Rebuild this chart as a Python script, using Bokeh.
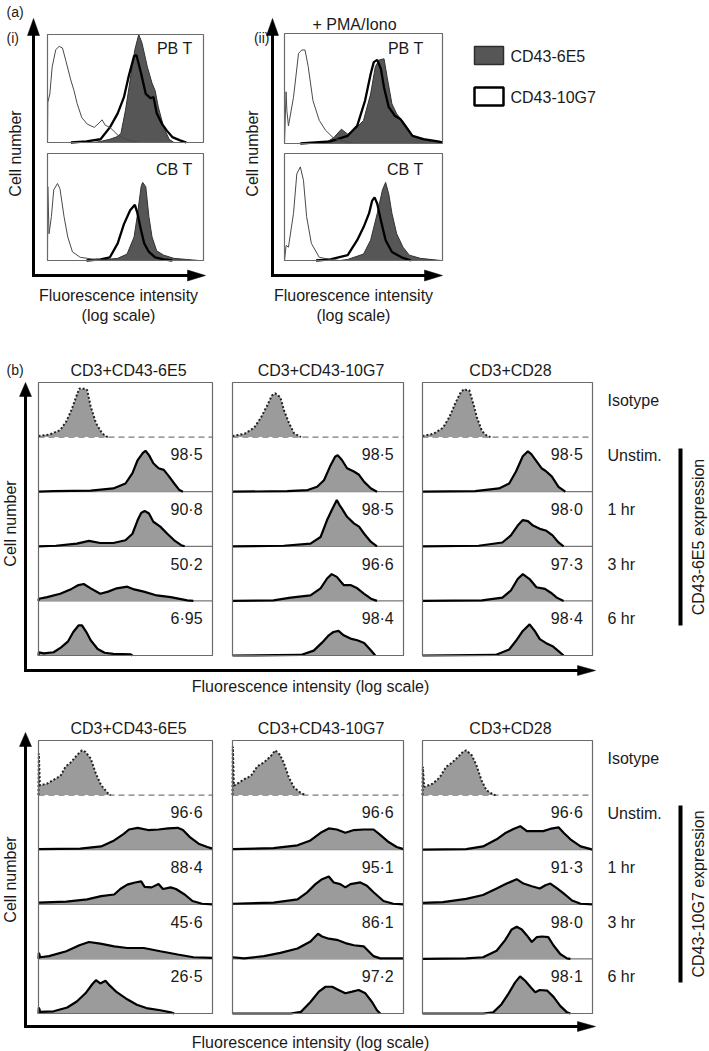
from bokeh.plotting import figure
from bokeh.models import Range1d
from bokeh.embed import file_html
from bokeh.resources import INLINE
from bokeh.core.properties import value

# ---------------- data ----------------
# x = position on log fluorescence axis (0..1), y = relative cell number (0..1)
# (a)(i) unstimulated
ai_pb_iso = [(0.0, 0.0), (0.002, 0.37), (0.015, 0.45), (0.03, 0.70), (0.053, 0.86), (0.075, 0.89), (0.096, 0.875),
             (0.117, 0.76), (0.149, 0.58), (0.17, 0.48), (0.19, 0.36), (0.22, 0.23), (0.255, 0.17), (0.30, 0.14),
             (0.33, 0.18), (0.35, 0.21), (0.37, 0.16), (0.40, 0.14), (0.45, 0.07), (0.50, 0.03), (0.55, 0.01), (0.60, 0.0)]
ai_pb_6e5 = [(0.30, 0.0), (0.34, 0.01), (0.40, 0.03), (0.44, 0.05), (0.47, 0.08), (0.50, 0.30), (0.53, 0.58),
             (0.56, 0.86), (0.585, 1.0), (0.606, 0.92), (0.64, 0.70), (0.67, 0.55), (0.69, 0.48), (0.71, 0.33),
             (0.745, 0.14), (0.78, 0.03), (0.81, 0.0)]
ai_pb_10g7 = [(0.15, 0.0), (0.25, 0.01), (0.34, 0.03), (0.40, 0.14), (0.45, 0.27), (0.49, 0.42), (0.52, 0.61),
              (0.555, 0.80), (0.57, 0.81), (0.60, 0.64), (0.63, 0.45), (0.66, 0.41), (0.68, 0.42), (0.70, 0.27),
              (0.735, 0.17), (0.765, 0.11), (0.80, 0.05), (0.85, 0.02), (0.89, 0.0)]
ai_cb_iso = [(0.0, 0.0), (0.002, 0.69), (0.01, 0.25), (0.025, 0.41), (0.04, 0.66), (0.064, 0.72), (0.08, 0.67),
             (0.106, 0.41), (0.13, 0.22), (0.16, 0.08), (0.21, 0.03), (0.30, 0.01), (0.40, 0.0)]
ai_cb_6e5 = [(0.30, 0.0), (0.34, 0.005), (0.45, 0.02), (0.51, 0.06), (0.555, 0.22), (0.575, 0.41), (0.60, 0.69),
             (0.61, 0.73), (0.63, 0.69), (0.65, 0.41), (0.67, 0.22), (0.70, 0.09), (0.745, 0.05), (0.81, 0.02),
             (0.89, 0.01), (0.97, 0.0)]
ai_cb_10g7 = [(0.25, 0.0), (0.34, 0.01), (0.40, 0.03), (0.45, 0.16), (0.49, 0.34), (0.53, 0.47), (0.56, 0.52),
              (0.575, 0.45), (0.60, 0.28), (0.62, 0.16), (0.65, 0.08), (0.69, 0.03), (0.745, 0.01), (0.80, 0.0)]
# (a)(ii) + PMA/Iono
aii_pb_iso = [(0.0, 0.0), (0.01, 0.47), (0.015, 0.30), (0.025, 0.16), (0.057, 0.42), (0.089, 0.82), (0.11, 0.85),
              (0.13, 0.85), (0.15, 0.70), (0.18, 0.39), (0.22, 0.21), (0.26, 0.12), (0.31, 0.05), (0.375, 0.02),
              (0.45, 0.0)]
aii_pb_6e5 = [(0.25, 0.0), (0.31, 0.05), (0.36, 0.13), (0.40, 0.085), (0.44, 0.12), (0.50, 0.21), (0.545, 0.45),
              (0.575, 0.70), (0.60, 0.76), (0.63, 0.77), (0.65, 0.60), (0.68, 0.36), (0.71, 0.27), (0.76, 0.18),
              (0.80, 0.085), (0.86, 0.04), (0.93, 0.02), (1.0, 0.01)]
aii_pb_10g7 = [(0.10, 0.0), (0.29, 0.02), (0.40, 0.07), (0.46, 0.16), (0.51, 0.39), (0.545, 0.63), (0.565, 0.74),
               (0.587, 0.76), (0.61, 0.68), (0.63, 0.51), (0.66, 0.33), (0.70, 0.25), (0.735, 0.22), (0.77, 0.15),
               (0.81, 0.07), (0.88, 0.04), (0.97, 0.02), (1.0, 0.01)]
aii_cb_iso = [(0.0, 0.0), (0.01, 0.14), (0.025, 0.125), (0.057, 0.44), (0.078, 0.81), (0.10, 0.875), (0.12, 0.75),
              (0.14, 0.41), (0.17, 0.16), (0.22, 0.03), (0.29, 0.01), (0.35, 0.0)]
aii_cb_6e5 = [(0.35, 0.0), (0.40, 0.01), (0.50, 0.06), (0.545, 0.19), (0.587, 0.44), (0.62, 0.66), (0.64, 0.73),
              (0.66, 0.62), (0.68, 0.44), (0.71, 0.25), (0.75, 0.125), (0.79, 0.05), (0.86, 0.02), (0.99, 0.0)]
aii_cb_10g7 = [(0.20, 0.0), (0.29, 0.01), (0.40, 0.05), (0.46, 0.19), (0.50, 0.31), (0.535, 0.44), (0.555, 0.56),
               (0.57, 0.59), (0.587, 0.53), (0.61, 0.375), (0.64, 0.19), (0.68, 0.08), (0.74, 0.03), (0.80, 0.0)]

# (b) labels
stimuli = ["CD3+CD43-6E5", "CD3+CD43-10G7", "CD3+CD28"]
timepoints = ["Isotype", "Unstim.", "1 hr", "3 hr", "6 hr"]
# % positive, per stimulus column (Unstim., 1 hr, 3 hr, 6 hr)
pct_6e5 = [[98.5, 90.8, 50.2, 6.95], [98.5, 98.5, 96.6, 98.4], [98.5, 98.0, 97.3, 98.4]]
pct_10g7 = [[96.6, 88.4, 45.6, 26.5], [96.6, 95.1, 86.1, 97.2], [96.6, 91.3, 98.0, 98.1]]

# (b) CD43-6E5 expression histograms: rows Isotype, Unstim., 1 hr, 3 hr, 6 hr
e5_col1 = [
    [(0.0, 0.02), (0.067, 0.05), (0.125, 0.13), (0.16, 0.29), (0.19, 0.50), (0.22, 0.77), (0.235, 0.89), (0.25, 0.88),
     (0.265, 0.89), (0.28, 0.86), (0.30, 0.56), (0.33, 0.26), (0.365, 0.07), (0.39, 0.01), (0.40, 0.0)],
    [(0.0, 0.0), (0.087, 0.01), (0.30, 0.02), (0.43, 0.06), (0.50, 0.15), (0.54, 0.34), (0.57, 0.58), (0.60, 0.71),
     (0.615, 0.75), (0.635, 0.67), (0.66, 0.52), (0.69, 0.43), (0.72, 0.40), (0.75, 0.28), (0.78, 0.15), (0.81, 0.03),
     (0.83, 0.0)],
    [(0.0, 0.0), (0.10, 0.01), (0.22, 0.05), (0.29, 0.10), (0.355, 0.06), (0.43, 0.06), (0.50, 0.11), (0.54, 0.23),
     (0.57, 0.48), (0.59, 0.61), (0.61, 0.65), (0.635, 0.60), (0.66, 0.45), (0.70, 0.36), (0.74, 0.23), (0.78, 0.11),
     (0.82, 0.02), (0.84, 0.0)],
    [(0.0, 0.0), (0.002, 0.04), (0.05, 0.07), (0.125, 0.13), (0.19, 0.22), (0.23, 0.29), (0.26, 0.31), (0.30, 0.23),
     (0.355, 0.13), (0.40, 0.17), (0.45, 0.23), (0.51, 0.26), (0.55, 0.21), (0.605, 0.17), (0.68, 0.10), (0.76, 0.07),
     (0.855, 0.01), (0.89, 0.0)],
    [(0.0, 0.0), (0.002, 0.06), (0.03, 0.04), (0.087, 0.06), (0.13, 0.15), (0.17, 0.26), (0.20, 0.43), (0.23, 0.55),
     (0.25, 0.55), (0.275, 0.43), (0.30, 0.28), (0.34, 0.12), (0.38, 0.05), (0.43, 0.03), (0.53, 0.02), (0.54, 0.0)],
]
e5_col2 = [
    [(0.0, 0.02), (0.07, 0.06), (0.126, 0.17), (0.165, 0.35), (0.20, 0.56), (0.23, 0.76), (0.25, 0.80), (0.28, 0.73),
     (0.30, 0.50), (0.33, 0.26), (0.36, 0.07), (0.40, 0.0)],
    [(0.0, 0.0), (0.32, 0.01), (0.44, 0.03), (0.495, 0.09), (0.535, 0.21), (0.57, 0.46), (0.60, 0.64), (0.615, 0.67),
     (0.64, 0.58), (0.67, 0.43), (0.71, 0.37), (0.74, 0.31), (0.77, 0.18), (0.81, 0.06), (0.845, 0.0)],
    [(0.0, 0.0), (0.30, 0.01), (0.456, 0.05), (0.515, 0.17), (0.553, 0.48), (0.58, 0.66), (0.61, 0.85), (0.625, 0.76),
     (0.64, 0.69), (0.67, 0.54), (0.71, 0.42), (0.74, 0.36), (0.77, 0.23), (0.81, 0.08), (0.845, 0.0)],
    [(0.0, 0.0), (0.24, 0.01), (0.34, 0.06), (0.456, 0.10), (0.515, 0.23), (0.553, 0.41), (0.58, 0.49), (0.61, 0.44),
     (0.65, 0.29), (0.69, 0.29), (0.73, 0.23), (0.77, 0.13), (0.81, 0.04), (0.845, 0.0)],
    [(0.0, 0.0), (0.40, 0.01), (0.475, 0.09), (0.525, 0.24), (0.563, 0.37), (0.59, 0.43), (0.62, 0.45), (0.65, 0.37),
     (0.69, 0.31), (0.73, 0.28), (0.77, 0.23), (0.81, 0.09), (0.835, 0.0)],
]
e5_col3 = [
    [(0.0, 0.02), (0.065, 0.06), (0.12, 0.17), (0.157, 0.36), (0.196, 0.64), (0.225, 0.82), (0.245, 0.88),
     (0.26, 0.86), (0.275, 0.86), (0.30, 0.60), (0.32, 0.36), (0.35, 0.11), (0.38, 0.02), (0.40, 0.0)],
    [(0.0, 0.0), (0.31, 0.01), (0.45, 0.06), (0.51, 0.15), (0.55, 0.37), (0.59, 0.65), (0.62, 0.74), (0.64, 0.69),
     (0.67, 0.56), (0.70, 0.43), (0.725, 0.38), (0.76, 0.28), (0.80, 0.09), (0.84, 0.0)],
    [(0.0, 0.0), (0.33, 0.01), (0.47, 0.07), (0.52, 0.20), (0.56, 0.38), (0.59, 0.48), (0.62, 0.46), (0.65, 0.38),
     (0.69, 0.32), (0.725, 0.29), (0.765, 0.20), (0.80, 0.07), (0.83, 0.0)],
    [(0.0, 0.0), (0.35, 0.01), (0.47, 0.06), (0.52, 0.19), (0.56, 0.40), (0.59, 0.49), (0.63, 0.40), (0.67, 0.25),
     (0.72, 0.22), (0.755, 0.15), (0.79, 0.06), (0.83, 0.0)],
    [(0.0, 0.0), (0.43, 0.01), (0.51, 0.11), (0.55, 0.27), (0.59, 0.45), (0.63, 0.57), (0.66, 0.45), (0.69, 0.30),
     (0.725, 0.23), (0.765, 0.17), (0.80, 0.08), (0.83, 0.0)],
]
# (b) CD43-10G7 expression histograms
g7_col1 = [
    [(0.0, 0.0), (0.002, 0.76), (0.008, 0.18), (0.05, 0.21), (0.087, 0.28), (0.126, 0.35), (0.155, 0.52), (0.19, 0.61),
     (0.22, 0.73), (0.25, 0.82), (0.27, 0.79), (0.30, 0.67), (0.33, 0.39), (0.36, 0.18), (0.40, 0.03), (0.415, 0.0)],
    [(0.0, 0.01), (0.24, 0.02), (0.36, 0.06), (0.435, 0.17), (0.49, 0.29), (0.52, 0.37), (0.57, 0.40), (0.63, 0.36),
     (0.69, 0.37), (0.745, 0.39), (0.80, 0.40), (0.83, 0.36), (0.87, 0.23), (0.92, 0.11), (0.97, 0.05), (1.0, 0.02)],
    [(0.0, 0.03), (0.16, 0.05), (0.28, 0.09), (0.36, 0.15), (0.435, 0.18), (0.47, 0.28), (0.51, 0.36), (0.555, 0.40),
     (0.59, 0.42), (0.61, 0.32), (0.65, 0.31), (0.69, 0.37), (0.715, 0.28), (0.76, 0.31), (0.79, 0.28), (0.84, 0.18),
     (0.885, 0.06), (0.94, 0.01), (1.0, 0.0)],
    [(0.0, 0.0), (0.002, 0.11), (0.01, 0.03), (0.06, 0.05), (0.16, 0.14), (0.235, 0.25), (0.29, 0.31), (0.355, 0.28),
     (0.435, 0.23), (0.51, 0.20), (0.605, 0.20), (0.70, 0.14), (0.80, 0.08), (0.89, 0.03), (1.0, 0.02)],
    [(0.0, 0.0), (0.002, 0.11), (0.01, 0.03), (0.087, 0.04), (0.165, 0.11), (0.22, 0.22), (0.27, 0.37), (0.31, 0.54),
     (0.33, 0.61), (0.355, 0.55), (0.385, 0.60), (0.41, 0.51), (0.45, 0.39), (0.51, 0.26), (0.565, 0.16), (0.62, 0.10),
     (0.70, 0.06), (0.76, 0.02), (0.78, 0.0)],
]
g7_col2 = [
    [(0.0, 0.0), (0.002, 0.89), (0.008, 0.17), (0.068, 0.29), (0.107, 0.35), (0.146, 0.53), (0.184, 0.60),
     (0.223, 0.71), (0.25, 0.82), (0.277, 0.74), (0.30, 0.59), (0.33, 0.32), (0.36, 0.14), (0.40, 0.04), (0.43, 0.0)],
    [(0.0, 0.01), (0.24, 0.03), (0.38, 0.08), (0.456, 0.17), (0.515, 0.31), (0.563, 0.39), (0.61, 0.37), (0.66, 0.31),
     (0.71, 0.36), (0.767, 0.37), (0.825, 0.37), (0.864, 0.27), (0.913, 0.14), (0.96, 0.05), (1.0, 0.01)],
    [(0.0, 0.01), (0.24, 0.03), (0.38, 0.09), (0.437, 0.22), (0.485, 0.37), (0.524, 0.46), (0.563, 0.51),
     (0.592, 0.40), (0.63, 0.37), (0.66, 0.31), (0.69, 0.37), (0.748, 0.40), (0.786, 0.34), (0.825, 0.22),
     (0.883, 0.06), (0.94, 0.01), (1.0, 0.0)],
    [(0.0, 0.03), (0.068, 0.01), (0.184, 0.05), (0.28, 0.11), (0.38, 0.19), (0.456, 0.32), (0.50, 0.46), (0.524, 0.41),
     (0.563, 0.37), (0.61, 0.35), (0.66, 0.29), (0.71, 0.25), (0.767, 0.23), (0.796, 0.14), (0.825, 0.05),
     (0.864, 0.01), (1.0, 0.01)],
    [(0.0, 0.0), (0.34, 0.0), (0.40, 0.03), (0.456, 0.21), (0.505, 0.40), (0.544, 0.49), (0.583, 0.49), (0.62, 0.43),
     (0.66, 0.37), (0.70, 0.40), (0.738, 0.43), (0.777, 0.37), (0.816, 0.21), (0.845, 0.06), (0.864, 0.0)],
]
g7_col3 = [
    [(0.0, 0.0), (0.002, 0.52), (0.01, 0.15), (0.06, 0.21), (0.10, 0.32), (0.14, 0.52), (0.168, 0.58), (0.21, 0.70),
     (0.24, 0.80), (0.257, 0.82), (0.29, 0.73), (0.317, 0.55), (0.347, 0.27), (0.376, 0.09), (0.416, 0.01),
     (0.43, 0.0)],
    [(0.0, 0.0), (0.257, 0.01), (0.356, 0.06), (0.436, 0.19), (0.485, 0.30), (0.535, 0.38), (0.575, 0.43),
     (0.614, 0.34), (0.663, 0.34), (0.71, 0.34), (0.75, 0.38), (0.80, 0.41), (0.83, 0.31), (0.87, 0.19), (0.93, 0.06),
     (0.99, 0.01), (1.0, 0.0)],
    [(0.0, 0.025), (0.12, 0.04), (0.257, 0.10), (0.356, 0.17), (0.436, 0.29), (0.495, 0.38), (0.554, 0.46),
     (0.594, 0.38), (0.643, 0.33), (0.69, 0.29), (0.723, 0.35), (0.752, 0.38), (0.792, 0.29), (0.83, 0.20),
     (0.88, 0.07), (0.93, 0.01), (1.0, 0.0)],
    [(0.0, 0.0), (0.257, 0.01), (0.356, 0.03), (0.436, 0.15), (0.485, 0.34), (0.525, 0.54), (0.554, 0.59),
     (0.584, 0.54), (0.614, 0.43), (0.643, 0.31), (0.673, 0.40), (0.703, 0.41), (0.74, 0.40), (0.77, 0.25),
     (0.81, 0.09), (0.85, 0.01), (0.87, 0.0)],
    [(0.0, 0.0), (0.356, 0.0), (0.416, 0.02), (0.465, 0.17), (0.505, 0.36), (0.545, 0.57), (0.574, 0.68),
     (0.604, 0.60), (0.634, 0.49), (0.663, 0.39), (0.69, 0.43), (0.733, 0.42), (0.772, 0.30), (0.81, 0.14),
     (0.85, 0.02), (0.87, 0.0)],
]

# ---------------- styling / layout ----------------
FONT = "Liberation Sans"
FS = "16px"
FS_TAG = "14px"
INK = "#1a1a1a"

p = figure(width=709, height=1051, x_range=Range1d(0, 709), y_range=Range1d(1051, 0),
           x_axis_location=None, y_axis_location=None, output_backend="svg",
           toolbar_location=None, min_border=0)
p.grid.visible = False
p.outline_line_color = None


def txt(x, y, s, align="left", angle=0.0, size=FS):
    p.text(x=[x], y=[y], text=[s], text_align=align, text_baseline="middle", angle=angle,
           text_font=value(FONT), text_font_size=size, text_color=INK)


def sub(x0, x1, ybase, ytop):
    return p.subplot(x_source=Range1d(0, 1), y_source=Range1d(0, 1),
                     x_target=Range1d(x0, x1), y_target=Range1d(ybase, ytop))


def xs_ys(pts):
    return [a for a, _ in pts], [b for _, b in pts]


def axes_arrows(xc, yc, ytip, xtip, Lv, Wv, Lh, Wh):
    p.line([xc, xc, xtip - Lh + 1], [ytip + Lv - 1, yc, yc], line_width=3, line_color="black",
           line_join="miter")
    p.patches(xs=[[xc - Wv / 2, xc + Wv / 2, xc], [xtip - Lh, xtip - Lh, xtip]],
              ys=[[ytip + Lv, ytip + Lv, ytip], [yc - Wh / 2, yc + Wh / 2, yc]],
              fill_color="black", line_color="black", line_width=0.5)


def panel_a(x0, x1, ybase, ytop, iso, e5, g7):
    g = sub(x0, x1, ybase, ytop)
    x, y = xs_ys(e5)
    g.varea(x=x, y1=[0] * len(x), y2=y, fill_color="#565656")
    g.line(x, y, line_color="#333333", line_width=1)
    x, y = xs_ys(g7)
    g.line(x, y, line_color="black", line_width=2.3)
    x, y = xs_ys(iso)
    g.line(x, y, line_color="#4a4a4a", line_width=1)
    p.quad(left=[x0], right=[x1], top=[ytop], bottom=[ybase], fill_color=None,
           line_color="#6a6a6a", line_width=1.2)


def column_b(x0, x1, top, bottom, curves, pct):
    h = (bottom - top) / 5.0
    for i, pts in enumerate(curves):
        ytop = top + i * h
        g = sub(x0, x1, ytop + h, ytop)
        x, y = xs_ys(pts)
        if i == 0:
            g.line([0, 1], [0, 0], line_color="#7a7a7a", line_width=1.3, line_dash="6 4")
            g.varea(x=x, y1=[0] * len(x), y2=y, fill_color="#9b9b9b")
            g.line(x, y, line_color="#222222", line_width=2, line_dash="2 2")
        else:
            g.line([0, 1], [0, 0], line_color="#555555", line_width=1)
            g.varea(x=x, y1=[0] * len(x), y2=y, fill_color="#9b9b9b")
            g.line(x, y, line_color="black", line_width=2.2)
            g.text(x=[0.943], y=[0.675], text=[str(pct[i - 1]).replace(".", "\u00b7")],
                   text_align="right", text_baseline="middle", text_font=value(FONT),
                   text_font_size=FS, text_color=INK)
    p.quad(left=[x0], right=[x1], top=[top], bottom=[bottom], fill_color=None,
           line_color="#6a6a6a", line_width=1.2)


# ---------------- panel (a) ----------------
txt(6, 11, "(a)", size=FS_TAG)
txt(6, 37, "(i)", size=FS_TAG)
txt(269, 37, "(ii)", align="right", size=FS_TAG)
txt(354, 24, "+ PMA/Iono", align="center")

axes_arrows(33, 275, 18, 205, 17, 12, 18, 11)
axes_arrows(272, 275, 18, 442, 17, 12, 18, 11)

panel_a(47, 203, 142, 34, ai_pb_iso, ai_pb_6e5, ai_pb_10g7)
panel_a(47, 203, 260, 153, ai_cb_iso, ai_cb_6e5, ai_cb_10g7)
panel_a(284, 442, 143, 33, aii_pb_iso, aii_pb_6e5, aii_pb_10g7)
panel_a(284, 442, 260, 153, aii_cb_iso, aii_cb_6e5, aii_cb_10g7)

for xr in (192, 423):
    txt(xr, 48, "PB T", align="right")
    txt(xr, 169, "CB T", align="right")
for xc in (15, 252):
    txt(xc, 153, "Cell number", align="center", angle=1.5708)
for xc in (118, 353):
    txt(xc, 295, "Fluorescence intensity", align="center")
    txt(xc, 315, "(log scale)", align="center")

# legend
p.quad(left=[474], right=[503], top=[46], bottom=[64], fill_color="#565656", line_color="#2e2e2e",
       line_width=1.5)
p.quad(left=[474], right=[503], top=[87], bottom=[105], fill_color="white", line_color="black",
       line_width=2.5)
txt(510, 56, "CD43-6E5")
txt(510, 97, "CD43-10G7")

# ---------------- panel (b) ----------------
cols_x = [(38, 212), (232, 403), (422, 592)]
txt(6, 369, "(b)", size=FS_TAG)

blocks = [
    (382, 655, 670, 382, [e5_col1, e5_col2, e5_col3], pct_6e5, "CD43-6E5 expression", 448, 625, 523),
    (740, 1013, 1026, 732, [g7_col1, g7_col2, g7_col3], pct_10g7, "CD43-10G7 expression", 805, 982, 879),
]
for top, bottom, yaxis, ytip, curves, pcts, explabel, bar0, bar1, ycell in blocks:
    axes_arrows(25, yaxis, ytip, 595, 14, 12, 18, 10)
    for (x0, x1), cv, pc, title in zip(cols_x, curves, pcts, stimuli):
        column_b(x0, x1, top, bottom, cv, pc)
        txt((x0 + x1) / 2 + 3, top - 12, title, align="center")
    h = (bottom - top) / 5.0
    for i, lab in enumerate(timepoints):
        txt(607, top + i * h + 18, lab)
    p.line([680, 680], [bar0, bar1], line_width=4, line_color="black")
    txt(698, (bar0 + bar1) / 2, explabel, align="center", angle=1.5708)
    txt(10, ycell, "Cell number", align="center", angle=1.5708)
    txt(310, yaxis + 16, "Fluorescence intensity (log scale)", align="center")

open("out.html", "w").write(file_html(p, INLINE))
